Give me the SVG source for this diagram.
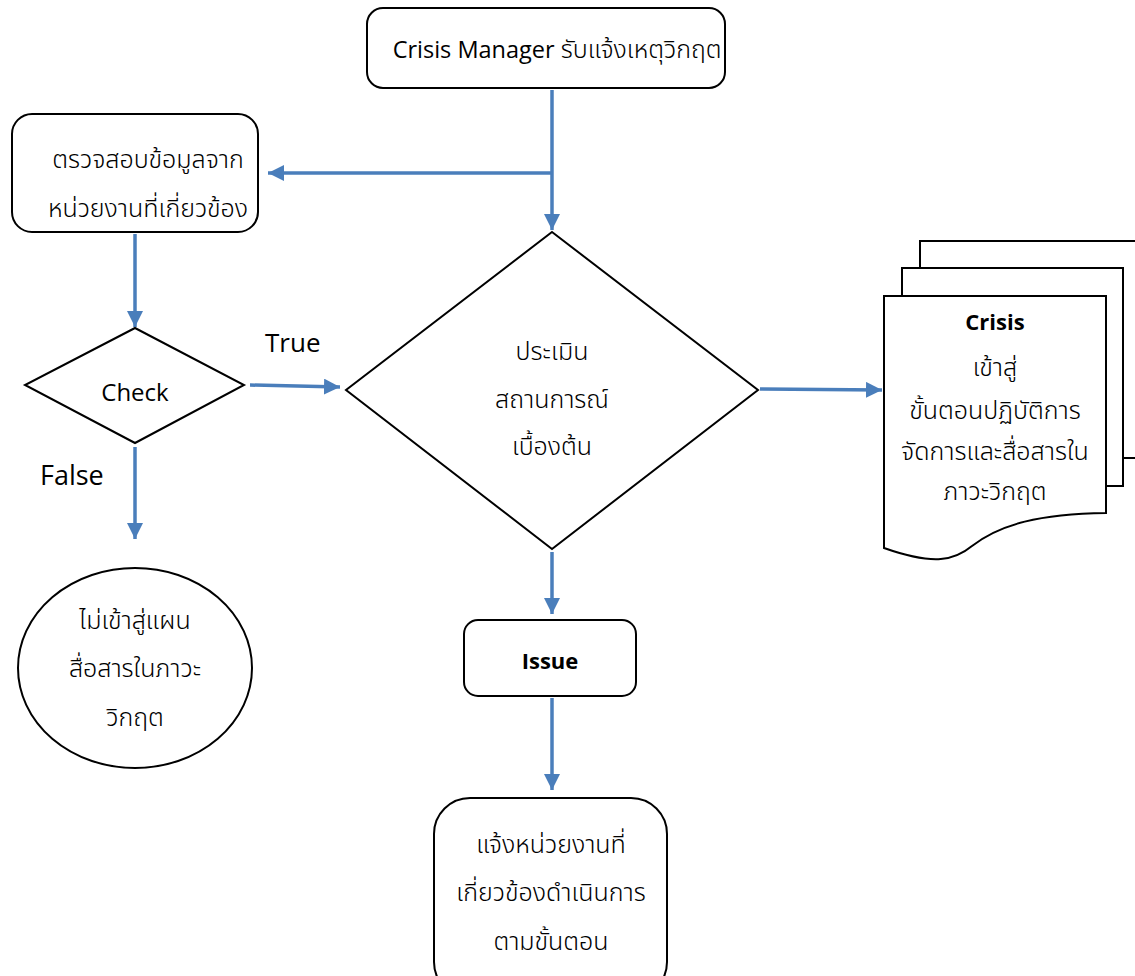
<svg xmlns="http://www.w3.org/2000/svg" width="1135" height="976" viewBox="0 0 1135 976">
  <style>
    .shape { fill: #ffffff; stroke: #000000; stroke-width: 2; }
    .t { font-family: "Open Sans", "Noto Sans", "Noto Sans Thai", sans-serif; font-size: 22px; fill: #000; text-anchor: middle; }
    .th { font-size: 25px; font-weight: 300; }
    .b { font-weight: bold; }
    .lbl { font-family: "Open Sans", "Noto Sans", sans-serif; font-size: 26px; fill: #000; }
    .conn { stroke: #4a7ebb; stroke-width: 3.5; fill: none; marker-end: url(#arrow); }
  </style>
  <defs>
    <marker id="arrow" viewBox="0 0 10 10" refX="10" refY="5" markerUnits="userSpaceOnUse" markerWidth="16" markerHeight="16" orient="auto">
      <path d="M0,0 L10,5 L0,10 z" fill="#4a7ebb"/>
    </marker>
  </defs>

  <!-- connectors -->
  <g id="connectors">
    <path class="conn" d="M552,90 L552,230"/>
    <path class="conn" d="M552,173 L268,173"/>
    <path class="conn" d="M135,234 L135,327"/>
    <path class="conn" d="M250,385 L340,387"/>
    <path class="conn" d="M760,389 L882,390"/>
    <path class="conn" d="M135,447 L135,539"/>
    <path class="conn" d="M552,552 L552,614"/>
    <path class="conn" d="M552,698 L552,790"/>
  </g>

  <g id="start">
    <rect class="shape" x="367" y="8" width="358" height="80" rx="16"/>
    <text class="t" x="557" y="58" style="font-size:23.5px">Crisis Manager <tspan style="font-size:25px;font-weight:300">รับแจ้งเหตุวิกฤต</tspan></text>
  </g>

  <g id="verify">
    <rect class="shape" x="12" y="114" width="246" height="118" rx="20"/>
    <text class="t th" x="148" y="168">ตรวจสอบข้อมูลจาก</text>
    <text class="t th" x="148" y="217">หน่วยงานที่เกี่ยวข้อง</text>
  </g>

  <g id="check">
    <polygon class="shape" points="135,328 244,385 135,443 25,385"/>
    <text class="t" x="135" y="401" style="font-size:24px">Check</text>
  </g>

  <g id="labels">
    <text class="lbl" x="265" y="352">True</text>
    <text class="lbl" x="40" y="485" style="font-size:27px">False</text>
  </g>

  <g id="assess">
    <polygon class="shape" points="552,232 758,390 552,549 346,390"/>
    <text class="t th" x="552" y="360">ประเมิน</text>
    <text class="t th" x="552" y="408">สถานการณ์</text>
    <text class="t th" x="552" y="455">เบื้องต้น</text>
  </g>

  <g id="crisis">
    <path class="shape" d="M920,268 L920,241 L1137,241 L1137,458 L1123,458"/>
    <path class="shape" d="M902,296 L902,268 L1123,268 L1123,486 L1106,486"/>
    <path class="shape" d="M884,296 L1106,296 L1106,513 C1040,514 1000,524 972,546 C955,560 935,566 884,548 Z"/>
    <text class="t b" x="995" y="330">Crisis</text>
    <text class="t th" x="995" y="376">เข้าสู่</text>
    <text class="t th" x="995" y="419">ขั้นตอนปฏิบัติการ</text>
    <text class="t th" x="995" y="460">จัดการและสื่อสารใน</text>
    <text class="t th" x="995" y="500">ภาวะวิกฤต</text>
  </g>

  <g id="no-plan">
    <ellipse class="shape" cx="135" cy="668" rx="117" ry="100"/>
    <text class="t th" x="135" y="629">ไม่เข้าสู่แผน</text>
    <text class="t th" x="135" y="677">สื่อสารในภาวะ</text>
    <text class="t th" x="135" y="726">วิกฤต</text>
  </g>

  <g id="issue">
    <rect class="shape" x="464" y="620" width="172" height="76" rx="14"/>
    <text class="t b" x="550" y="669">Issue</text>
  </g>

  <g id="notify">
    <rect class="shape" x="434" y="798" width="233" height="200" rx="36"/>
    <text class="t th" x="551" y="853">แจ้งหน่วยงานที่</text>
    <text class="t th" x="551" y="901">เกี่ยวข้องดำเนินการ</text>
    <text class="t th" x="551" y="950">ตามขั้นตอน</text>
  </g>
</svg>
